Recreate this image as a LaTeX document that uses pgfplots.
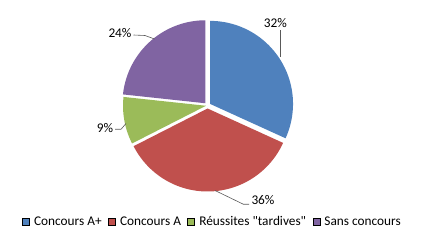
\documentclass[border=0pt]{standalone}
\usepackage{fontspec}
\setmainfont{Carlito}
\newfontfamily\calfont{Carlito}
\usepackage{pgfplots}
\usepackage{pgfplotstable}
\pgfplotsset{compat=1.18}
\definecolor{cA}{HTML}{4F81BD}
\definecolor{cB}{HTML}{C0504D}
\definecolor{cC}{HTML}{9BBB59}
\definecolor{cD}{HTML}{8064A2}
\definecolor{lead}{HTML}{595959}
\pgfplotstableread{
idx value
0 31.8
1 35.7
2 9.2
3 23.3
}\piedata
\pgfplotstablegetelem{0}{value}\of\piedata\let\vA\pgfplotsretval
\pgfplotstablegetelem{1}{value}\of\piedata\let\vB\pgfplotsretval
\pgfplotstablegetelem{2}{value}\of\piedata\let\vC\pgfplotsretval
\pgfplotstablegetelem{3}{value}\of\piedata\let\vD\pgfplotsretval
\pgfmathsetmacro\aO{90}
\pgfmathsetmacro\aA{\aO-3.6*\vA}
\pgfmathsetmacro\aB{\aA-3.6*\vB}
\pgfmathsetmacro\aC{\aB-3.6*\vC}
\pgfmathsetmacro\aD{\aC-3.6*\vD}
\pgfmathsetmacro\xA{3*cos((\aO+\aA)/2)}\pgfmathsetmacro\yA{3*sin((\aO+\aA)/2)}
\pgfmathsetmacro\xB{3*cos((\aA+\aB)/2)}\pgfmathsetmacro\yB{3*sin((\aA+\aB)/2)}
\pgfmathsetmacro\xC{1.5*cos((\aB+\aC)/2)}\pgfmathsetmacro\yC{1.5*sin((\aB+\aC)/2)}
\pgfmathsetmacro\xD{3*cos((\aC+\aD)/2)}\pgfmathsetmacro\yD{3*sin((\aC+\aD)/2)}
\newcommand\lf{\calfont\fontsize{13.3bp}{15bp}\selectfont}
\begin{document}%
\begin{tikzpicture}
\begin{axis}[x=1bp,y=1bp,xmin=-207.5,xmax=215.5,ymin=-137.5,ymax=105.5,
  hide axis,clip=false,
  legend columns=4,
  legend style={at={(axis cs:5,-116.2)},anchor=center,draw=none,fill=none,
    font=\lf,
    /tikz/every odd column/.append style={column sep=2.5bp},
    /tikz/every even column/.append style={column sep=4.5bp}},
  legend image code/.code={\fill[#1] (0bp,-3.5bp) rectangle (7bp,3.5bp);},
]
\path (rel axis cs:0,0) rectangle (rel axis cs:1,1);
\addplot[fill=cA,draw=none,domain=\aA:\aO,samples=80,data cs=polar,xshift=\xA bp,yshift=\yA bp,forget plot] ({x},{83}) -- (axis cs:0,0) -- cycle;
\addplot[fill=cB,draw=none,domain=\aB:\aA,samples=80,data cs=polar,xshift=\xB bp,yshift=\yB bp,forget plot] ({x},{83}) -- (axis cs:0,0) -- cycle;
\addplot[fill=cC,draw=none,domain=\aC:\aB,samples=40,data cs=polar,xshift=\xC bp,yshift=\yC bp,forget plot] ({x},{83}) -- (axis cs:0,0) -- cycle;
\addplot[fill=cD,draw=none,domain=\aD:\aC,samples=80,data cs=polar,xshift=\xD bp,yshift=\yD bp,forget plot] ({x},{83}) -- (axis cs:0,0) -- cycle;
% leader lines
\addplot[lead,line width=0.6bp,forget plot] coordinates {(73.2,75) (73.2,48)};
\addplot[lead,line width=0.6bp,forget plot] coordinates {(7.5,-85) (36,-98.8) (41.5,-98.8)};
\addplot[lead,line width=0.6bp,forget plot] coordinates {(-92.5,-23.8) (-86.5,-23.8) (-81.5,-18)};
\addplot[lead,line width=0.6bp,forget plot] coordinates {(-74,70.5) (-62.5,70) (-53,66.5)};
\node[font=\lf] at (axis cs:67.8,82) {32\%};
\node[font=\lf] at (axis cs:55.5,-94.5) {36\%};
\node[font=\lf] at (axis cs:-102.5,-22.2) {9\%};
\node[font=\lf] at (axis cs:-87.5,72.8) {24\%};
\addlegendimage{fill=cA}\addlegendentry{Concours A+}
\addlegendimage{fill=cB}\addlegendentry{Concours A}
\addlegendimage{fill=cC}\addlegendentry{Réussites "tardives"}
\addlegendimage{fill=cD}\addlegendentry{Sans concours}
\end{axis}
\end{tikzpicture}%
\end{document}
